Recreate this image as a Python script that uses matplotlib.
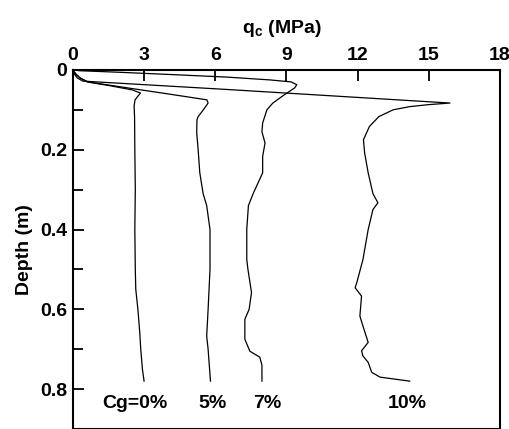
import numpy as np
import matplotlib
matplotlib.use("Agg")
import matplotlib.pyplot as plt
from matplotlib.ticker import MultipleLocator

plt.rcParams['font.family'] = ['Liberation Sans', 'DejaVu Sans']
plt.rcParams['font.weight'] = 'bold'
plt.rcParams['mathtext.fontset'] = 'custom'
plt.rcParams['mathtext.rm'] = 'Liberation Sans:bold'
plt.rcParams['mathtext.default'] = 'rm'

# cone resistance profiles (depth m, qc MPa)
d_0 = [0, 0.005, 0.012, 0.02, 0.03, 0.04, 0.05, 0.058, 0.065, 0.075, 0.09, 0.12,
       0.2, 0.3, 0.4, 0.5, 0.55, 0.6, 0.66, 0.7, 0.75, 0.78]
q_0 = [0, 0.05, 0.15, 0.3, 0.6, 1.6, 2.5, 2.85, 2.75, 2.62, 2.58, 2.6,
       2.61, 2.63, 2.61, 2.63, 2.65, 2.74, 2.82, 2.86, 2.93, 3.0]

d_5 = [0, 0.005, 0.012, 0.02, 0.03, 0.045, 0.06, 0.075, 0.083, 0.1, 0.117, 0.125,
       0.158, 0.2, 0.258, 0.31, 0.34, 0.4, 0.5, 0.6, 0.667, 0.7, 0.78]
q_5 = [0, 0.05, 0.15, 0.3, 0.63, 2.3, 4.0, 5.65, 5.7, 5.5, 5.28, 5.23,
       5.22, 5.28, 5.35, 5.49, 5.64, 5.78, 5.78, 5.7, 5.64, 5.7, 5.8]

d_7 = [0, 0.002, 0.006, 0.012, 0.018, 0.025, 0.03, 0.037, 0.045, 0.055, 0.065, 0.083,
       0.1, 0.133, 0.155, 0.183, 0.217, 0.258, 0.31, 0.34, 0.4, 0.475, 0.5, 0.558,
       0.6, 0.625, 0.675, 0.705, 0.72, 0.74, 0.78]
q_7 = [0, 0.3, 2.0, 4.3, 6.5, 8.3, 9.2, 9.44, 9.35, 9.1, 8.85, 8.43,
       8.18, 8.0, 7.97, 8.1, 8.0, 8.0, 7.6, 7.4, 7.33, 7.33, 7.38, 7.53,
       7.43, 7.25, 7.25, 7.46, 7.88, 7.97, 7.97]

d_10 = [0, 0.005, 0.012, 0.02, 0.028, 0.049, 0.083, 0.087, 0.092, 0.1, 0.117, 0.142,
        0.175, 0.208, 0.258, 0.31, 0.333, 0.35, 0.4, 0.475, 0.533, 0.546, 0.567,
        0.617, 0.642, 0.683, 0.704, 0.717, 0.733, 0.758, 0.77, 0.78]
q_10 = [0, 0.03, 0.08, 0.18, 0.42, 6.5, 15.9, 15.0, 14.2, 13.5, 12.9, 12.5,
        12.25, 12.3, 12.45, 12.65, 12.86, 12.65, 12.45, 12.23, 11.97, 11.9, 12.17,
        12.1, 12.23, 12.45, 12.17, 12.23, 12.45, 12.6, 12.95, 14.2]

labels = ["Cg=0%", "5%", "7%", "10%"]
label_x = [2.6, 5.9, 8.2, 14.1]
label_depth = 0.835

fig = plt.figure(figsize=(5.10, 4.29), dpi=100)
ax = fig.add_axes([0.143, 0.0, 0.837, 0.837])

for d, q in [(d_0, q_0), (d_5, q_5), (d_7, q_7), (d_10, q_10)]:
    ax.plot(q, d, color='black', lw=0.9)

for lab, x in zip(labels, label_x):
    ax.text(x, label_depth, lab, ha='center', va='center', fontsize=14, fontweight='bold')

ax.set_xlim(0, 18)
ax.set_ylim(0.9, 0)
ax.xaxis.set_major_locator(MultipleLocator(3))
ax.yaxis.set_minor_locator(MultipleLocator(0.1))
ax.set_yticks([0, 0.2, 0.4, 0.6, 0.8])
ax.set_yticklabels(['0', '0.2', '0.4', '0.6', '0.8'])
ax.xaxis.tick_top()
ax.xaxis.set_label_position('top')
ax.tick_params(axis='both', direction='in', width=1.3, labelsize=14, pad=4)
ax.tick_params(axis='both', which='major', length=8)
ax.tick_params(axis='y', which='minor', direction='in', length=7, width=1.3)
ax.tick_params(axis='x', pad=4)
for lbl in ax.get_xticklabels() + ax.get_yticklabels():
    lbl.set_fontweight('bold')
for s in ax.spines.values():
    s.set_linewidth(1.5)

ax.set_xlabel(r'q$_{c}$ (MPa)', fontsize=14, fontweight='bold')
ax.xaxis.set_label_coords(0.49, 1.0 + (70 - 33) / 359.0)
ax.set_ylabel('Depth (m)', fontsize=14, fontweight='bold', labelpad=5)

fig.savefig('out.png', dpi=100)
